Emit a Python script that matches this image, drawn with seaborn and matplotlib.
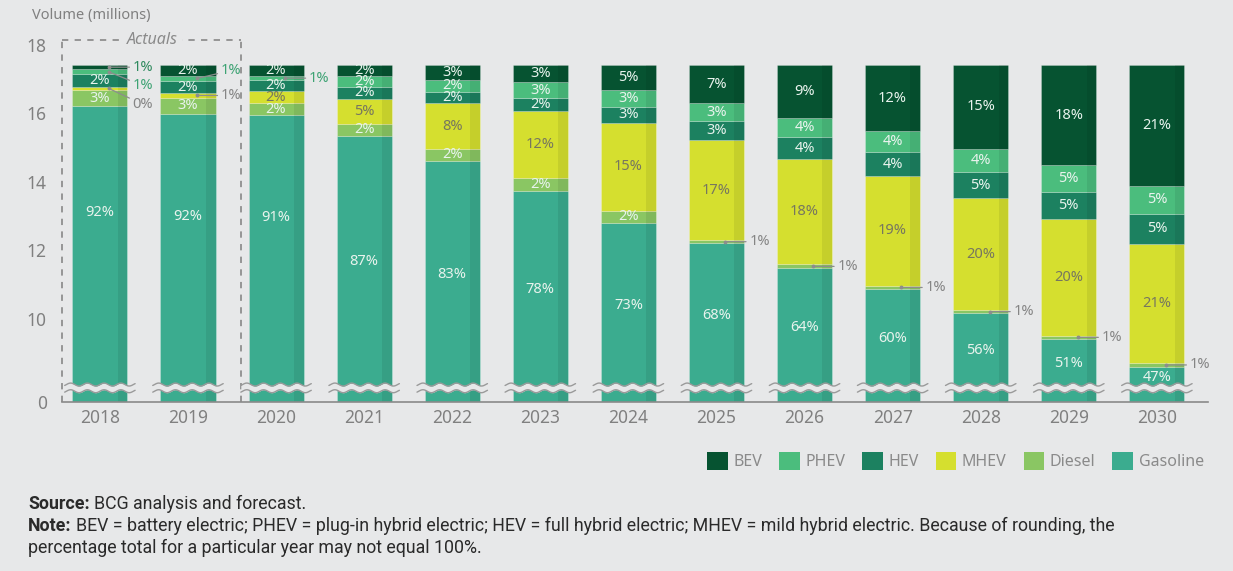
import numpy as np
import matplotlib
matplotlib.use("Agg")
import matplotlib.pyplot as plt
import matplotlib.transforms as mtransforms
from matplotlib.patches import Patch
import seaborn as sns

# Data: volume (millions) per powertrain
years = [2018, 2019, 2020, 2021, 2022, 2023, 2024, 2025, 2026, 2027, 2028, 2029, 2030]
gasoline = [16.21, 15.98, 15.95, 15.34, 14.61, 13.74, 12.81, 12.21, 11.48, 10.87, 10.17, 9.42, 8.61]
diesel = [0.47, 0.48, 0.34, 0.35, 0.35, 0.37, 0.35, 0.09, 0.11, 0.10, 0.09, 0.09, 0.10]
mhev = [0.09, 0.12, 0.37, 0.74, 1.33, 1.96, 2.57, 2.92, 3.07, 3.21, 3.26, 3.40, 3.48]
hev = [0.37, 0.37, 0.31, 0.34, 0.34, 0.38, 0.46, 0.55, 0.64, 0.68, 0.76, 0.80, 0.88]
phev = [0.14, 0.13, 0.11, 0.32, 0.34, 0.45, 0.49, 0.52, 0.55, 0.62, 0.69, 0.78, 0.82]
bev = [0.13, 0.33, 0.33, 0.32, 0.44, 0.51, 0.73, 1.12, 1.56, 1.93, 2.44, 2.92, 3.52]

# Percent labels shown on the chart
pct_gasoline = [92, 92, 91, 87, 83, 78, 73, 68, 64, 60, 56, 51, 47]
pct_diesel = [3, 3, 2, 2, 2, 2, 2, 1, 1, 1, 1, 1, 1]
pct_mhev = [0, 1, 2, 5, 8, 12, 15, 17, 18, 19, 20, 20, 21]
pct_hev = [2, 2, 2, 2, 2, 2, 3, 3, 4, 4, 5, 5, 5]
pct_phev = [1, 1, 1, 2, 2, 3, 3, 3, 4, 4, 4, 5, 5]
pct_bev = [1, 2, 2, 2, 3, 3, 5, 7, 9, 12, 15, 18, 21]

series = ["Gasoline", "Diesel", "MHEV", "HEV", "PHEV", "BEV"]
values = [gasoline, diesel, mhev, hev, phev, bev]
pcts = [pct_gasoline, pct_diesel, pct_mhev, pct_hev, pct_phev, pct_bev]
colors = {"BEV": "#065331", "PHEV": "#4bbd7d", "HEV": "#1c8160",
          "MHEV": "#d5df2f", "Diesel": "#8ac663", "Gasoline": "#3bac8f"}

# labels drawn outside the bar: (year, series, vertical offset px, text colour)
callouts = [(2018, "BEV", 0, "#2f8a5e"), (2018, "PHEV", -14, "#3ea374"),
            (2018, "MHEV", -16, "#858585"), (2019, "PHEV", 8, "#3ea374"),
            (2019, "MHEV", 0, "#858585"), (2020, "PHEV", 0, "#3ea374")]
callouts += [(y, "Diesel", 0, "#858585") for y in range(2025, 2031)]

bg = "#e7e8e9"
grey = "#808080"

sns.set_theme(style="white")
plt.rcParams["font.family"] = ["Noto Sans", "DejaVu Sans"]

fig = plt.figure(figsize=(12.33, 5.71), dpi=100, facecolor=bg)
ax = fig.add_axes([0.0503, 0.296, 0.9294, 0.6497])
ax.set_facecolor(bg)

# broken axis: 0..8 squeezed into a small band, linear above 8
B, Z = 8.0, 7.58
def fwd(y):
    y = np.asarray(y, dtype=float)
    return np.where(y >= B, y, Z + y * (B - Z) / B)
def inv(u):
    u = np.asarray(u, dtype=float)
    return np.where(u >= B, u, (u - Z) * B / (B - Z))
ax.set_yscale("function", functions=(fwd, inv))

x = np.arange(len(years))
w = 0.625
bottom = np.zeros(len(years))
tops = {}
for name, vals in zip(series, values):
    vals = np.array(vals)
    ax.bar(x, vals, w, bottom=bottom, color=colors[name],
           edgecolor=(1, 1, 1, 0.25), linewidth=0.6, zorder=2)
    tops[name] = (bottom.copy(), bottom + vals)
    bottom = bottom + vals

# darker strip on the right side of every bar
stripe = 0.11
ax.bar(x + w / 2 - stripe / 2, bottom, stripe, color="black", alpha=0.07,
       linewidth=0, zorder=2.5)

# percentage labels
lab_fs = 10.5
callout_keys = {(c[0], c[1]): c for c in callouts}
for name, pv in zip(series, pcts):
    lo, hi = tops[name]
    for i, yr in enumerate(years):
        label = f"{pv[i]}%"
        if (yr, name) in callout_keys:
            _, _, dy, col = callout_keys[(yr, name)]
            mid = (lo[i] + hi[i]) / 2
            ax.plot(x[i] + 0.1, mid, "o", ms=1.8, color="#8d8d8d", zorder=4)
            ax.annotate(label, xy=(x[i] + 0.1, mid), xytext=(24, dy),
                        textcoords="offset pixels", ha="left", va="center",
                        fontsize=lab_fs, color=col, zorder=5,
                        arrowprops=dict(arrowstyle="-", color="#8d8d8d", lw=0.9,
                                        shrinkA=0, shrinkB=0))
            continue
        if name == "Gasoline":
            base = 10.0 if yr <= 2020 else B
            ymid = (base + hi[i]) / 2
        else:
            ymid = (lo[i] + hi[i]) / 2
        tc = "#77775f" if name == "MHEV" else "#e8f3ed"
        ax.text(x[i], ymid, label, ha="center", va="center", fontsize=lab_fs,
                color=tc, zorder=5)

# wavy axis-break marks on each bar
trans = mtransforms.blended_transform_factory(ax.transData, ax.transAxes)
for i in x:
    xs = np.linspace(i - 0.40, i + 0.40, 80)
    wave = 0.004 * np.sin(2 * np.pi * (xs - i) / 0.19)
    upper = 0.047 + wave
    lower = 0.029 + wave
    ax.fill_between(xs, lower, upper, color=bg, transform=trans, zorder=6, lw=0)
    ax.plot(xs, upper, color="#9a9a9a", lw=1.0, transform=trans, zorder=7)
    ax.plot(xs, lower, color="#9a9a9a", lw=1.0, transform=trans, zorder=7)

# "Actuals" dashed box around 2018-2019
box_left, box_right, box_top = -0.425, 1.604, 18.13
dash = dict(color="#8f8f8f", lw=1.3, linestyle=(0, (3.5, 3.5)), clip_on=False, zorder=1)
ax.plot([box_left, box_left], [0, box_top], **dash)
ax.plot([box_right, box_right], [0, box_top], **dash)
ax.plot([box_left, box_right], [box_top, box_top], **dash)
ax.text(0.594, box_top, "Actuals", ha="center", va="center", fontsize=11.5,
        style="italic", color="#8a8a8a", zorder=3,
        bbox=dict(facecolor=bg, edgecolor="none", pad=3))

ax.set_xlim(-0.43, 12.58)
ax.set_ylim(0, 18.4)
ax.set_yticks([0, 10, 12, 14, 16, 18])
ax.set_yticklabels(["0", "10", "12", "14", "16", "18"])
ax.set_xticks(x)
ax.set_xticklabels([str(y) for y in years])
ax.tick_params(axis="both", length=0, labelsize=12.5, labelcolor=grey)
ax.tick_params(axis="y", pad=11)
ax.tick_params(axis="x", pad=5)
for s in ["top", "right", "left"]:
    ax.spines[s].set_visible(False)
ax.spines["bottom"].set_color("#8a8a8a")
ax.spines["bottom"].set_linewidth(1.2)
ax.grid(False)

fig.text(32 / 1233, 1 - 16 / 571, "Volume (millions)", fontsize=10.5, color=grey,
         ha="left", va="center")

# legend
order = ["BEV", "PHEV", "HEV", "MHEV", "Diesel", "Gasoline"]
handles = [Patch(facecolor=colors[n], edgecolor="none") for n in order]
fig.legend(handles, order, loc="center left", bbox_to_anchor=(707 / 1233, 1 - 461 / 571),
           ncol=6, frameon=False, fontsize=11.5, handlelength=1.3, handleheight=1.4,
           handletextpad=0.35, columnspacing=1.05, borderpad=0, borderaxespad=0,
           labelcolor="#8a8a8a")

# source / note: bold lead-in followed by regular text
fs = 12.8
txt = "#2a2a2a"
src_font = ["Roboto", "DejaVu Sans"]
fig.canvas.draw()
renderer = fig.canvas.get_renderer()
def lead_line(y_px, lead, rest):
    t = fig.text(28 / 1233, 1 - y_px / 571, lead, fontsize=fs, color=txt,
                 fontweight="bold", family=src_font, va="center")
    bb = t.get_window_extent(renderer)
    fig.text((bb.x1 + 4) / 1233, 1 - y_px / 571, rest, fontsize=fs, color=txt,
             family=src_font, va="center")

lead_line(504, "Source:", "BCG analysis and forecast.")
lead_line(526, "Note:", "BEV = battery electric; PHEV = plug-in hybrid electric; "
          "HEV = full hybrid electric; MHEV = mild hybrid electric. Because of rounding, the")
fig.text(28 / 1233, 1 - 548 / 571,
         "percentage total for a particular year may not equal 100%.",
         fontsize=fs, color=txt, family=src_font, va="center")

fig.savefig("out.png", dpi=100, facecolor=bg)
